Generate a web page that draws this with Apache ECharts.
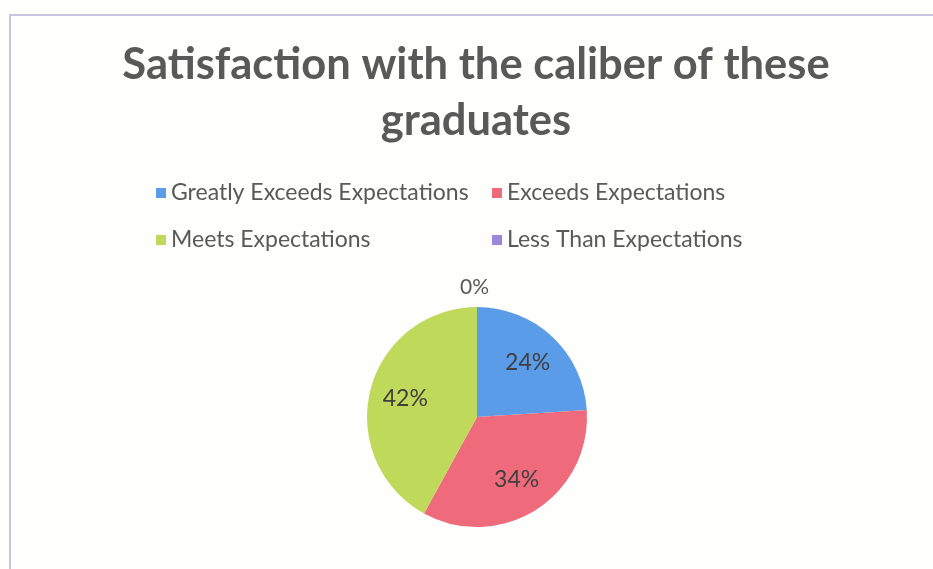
<!DOCTYPE html>
<html>
<head>
<meta charset="utf-8">
<script src="https://cdn.jsdelivr.net/npm/echarts@6/dist/echarts.min.js"></script>
<style>
  html, body { margin: 0; padding: 0; background: #fefefc; }
  #chart { width: 933px; height: 569px; }
</style>
</head>
<body>
<div id="chart"></div>
<script>
// Chart content
const titleText = 'Satisfaction with the caliber of these\ngraduates';
const categories = [
  'Greatly Exceeds Expectations',
  'Exceeds Expectations',
  'Meets Expectations',
  'Less Than Expectations'
];
const shares = [24, 34, 42, 0];
const sliceColors = ['#5b9ce8', '#ef6b7b', '#bfd95a', '#9b88da'];

// Legend is laid out as a 2x2 grid: left column and right column
const legendLeftColumn = [categories[0], categories[2]];
const legendRightColumn = [categories[1], categories[3]];

const FONT = 'Lato, "Open Sans", sans-serif';
const pieCenter = [477, 417];
const pieRadius = 110;
const innerCore = 32; // inner disc pushes the "inside" labels further out

const pieData = categories.map((name, i) => {
  const item = { name: name, value: shares[i], itemStyle: { color: sliceColors[i] } };
  if (shares[i] === 0) {
    item.label = {
      position: 'outside',
      distanceToLabelLine: -17,
      fontSize: 21,
      color: '#595959'
    };
    item.labelLine = { show: false, length: 20, length2: 0 };
  }
  return item;
});

const chart = echarts.init(document.getElementById('chart'), null, { renderer: 'canvas' });

const legendCommon = {
  orient: 'vertical',
  icon: 'rect',
  itemWidth: 10,
  itemHeight: 10,
  itemGap: 21,
  selectedMode: false,
  textStyle: { fontFamily: FONT, fontSize: 23, color: '#595959', lineHeight: 26 }
};

chart.setOption({
  backgroundColor: '#fefefc',
  animation: false,
  graphic: [{
    type: 'rect',
    shape: { x: 10, y: 15, width: 1000, height: 700 },
    style: { fill: 'none', stroke: '#c9c5de', lineWidth: 2 },
    silent: true
  }],
  title: {
    text: titleText,
    left: 471,
    top: 32,
    textAlign: 'center',
    textStyle: {
      fontFamily: FONT,
      fontSize: 43.5,
      fontWeight: 'bold',
      color: '#595959',
      lineHeight: 56
    }
  },
  legend: [
    Object.assign({ left: 151, top: 175, data: legendLeftColumn }, legendCommon),
    Object.assign({ left: 487, top: 175, data: legendRightColumn }, legendCommon)
  ],
  series: [
    {
      // solid core so the ring below reads as one full pie
      type: 'pie',
      center: pieCenter,
      radius: [0, innerCore + 2],
      startAngle: 90,
      clockwise: true,
      silent: true,
      label: { show: false },
      labelLine: { show: false },
      data: pieData.map(d => ({ name: d.name, value: d.value, itemStyle: d.itemStyle }))
    },
    {
      type: 'pie',
      center: pieCenter,
      radius: [innerCore, pieRadius],
      startAngle: 90,
      clockwise: true,
      avoidLabelOverlap: false,
      itemStyle: { borderWidth: 0 },
      label: {
        show: true,
        position: 'inside',
        formatter: '{d}%',
        fontFamily: FONT,
        fontSize: 23,
        color: '#404040'
      },
      labelLine: { show: false },
      data: pieData
    }
  ]
});
</script>
</body>
</html>
